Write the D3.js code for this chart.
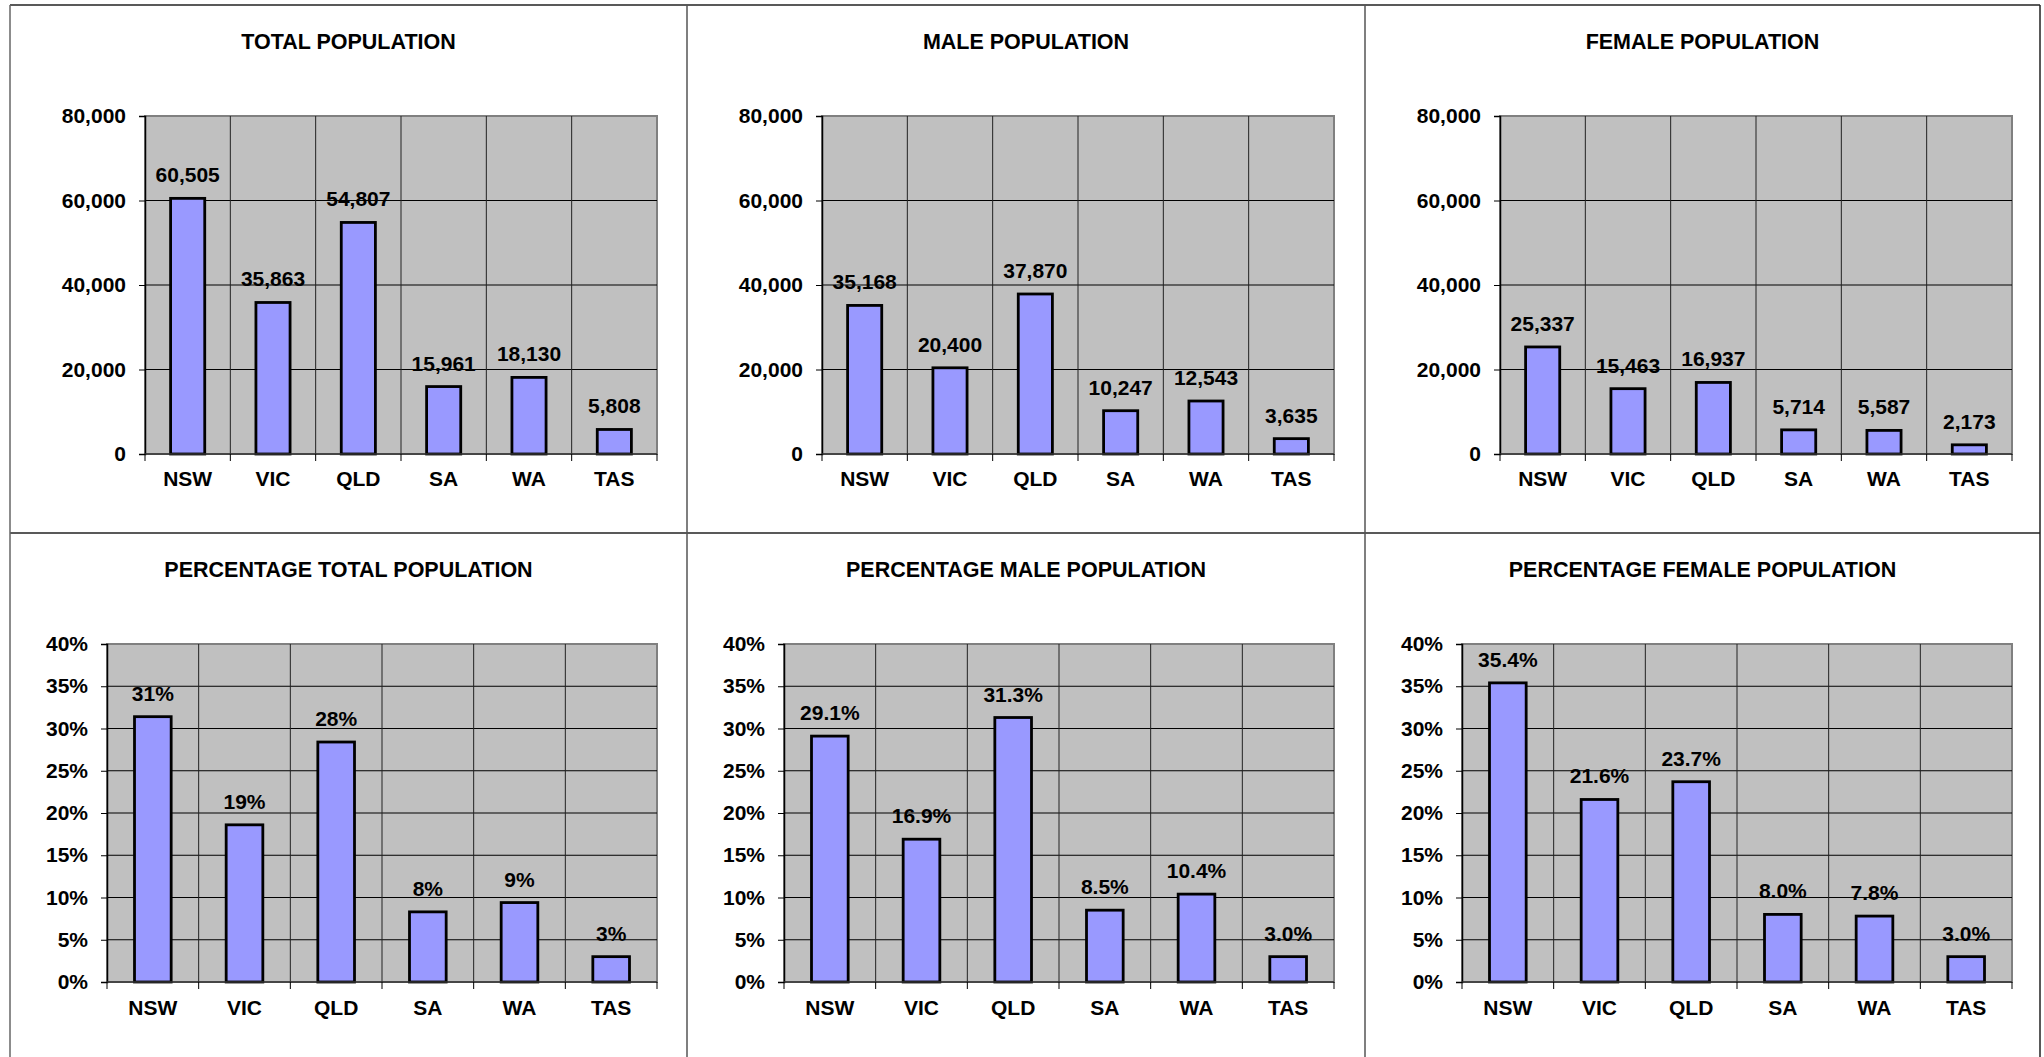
<!DOCTYPE html>
<html>
<head>
<meta charset="utf-8">
<script src="https://cdn.jsdelivr.net/npm/d3@7"></script>
<style>
  html, body { margin: 0; padding: 0; background: #ffffff; }
  svg { display: block; }
  text { font-family: "Liberation Sans", Arial, sans-serif; font-weight: bold; fill: #000; }
</style>
</head>
<body>
<svg id="chart" width="2044" height="1057"></svg>
<script>
// ---- data ----
const states = ["NSW", "VIC", "QLD", "SA", "WA", "TAS"];
const totalPopulation = [60505, 35863, 54807, 15961, 18130, 5808];
const malePopulation = [35168, 20400, 37870, 10247, 12543, 3635];
const femalePopulation = [25337, 15463, 16937, 5714, 5587, 2173];
const totalPercent = [31.4, 18.6, 28.4, 8.3, 9.4, 3.0];
const malePercent = [29.1, 16.9, 31.3, 8.5, 10.4, 3.0];
const femalePercent = [35.4, 21.6, 23.7, 8.0, 7.8, 3.0];
const countTicks = [0, 20000, 40000, 60000, 80000];
const percentTicks = [0, 5, 10, 15, 20, 25, 30, 35, 40];
const titles = ["TOTAL POPULATION", "MALE POPULATION", "FEMALE POPULATION",
                "PERCENTAGE TOTAL POPULATION", "PERCENTAGE MALE POPULATION", "PERCENTAGE FEMALE POPULATION"];

const svg = d3.select("#chart");
const colEdges = [10, 687, 1365, 2040];
const rowEdges = [5, 533, 1057];

const fmtCount = d3.format(",");
const fmtPctTick = d => d + "%";
const fmt0 = d => d3.format(".0f")(d) + "%";
const fmt1 = d => d3.format(".1f")(d) + "%";

const charts = [
  { row: 0, col: 0, title: titles[0], values: totalPopulation, ticks: countTicks, max: 80000, tickFmt: fmtCount, labFmt: fmtCount },
  { row: 0, col: 1, title: titles[1], values: malePopulation, ticks: countTicks, max: 80000, tickFmt: fmtCount, labFmt: fmtCount },
  { row: 0, col: 2, title: titles[2], values: femalePopulation, ticks: countTicks, max: 80000, tickFmt: fmtCount, labFmt: fmtCount },
  { row: 1, col: 0, title: titles[3], values: totalPercent, ticks: percentTicks, max: 40, tickFmt: fmtPctTick, labFmt: fmt0 },
  { row: 1, col: 1, title: titles[4], values: malePercent, ticks: percentTicks, max: 40, tickFmt: fmtPctTick, labFmt: fmt1 },
  { row: 1, col: 2, title: titles[5], values: femalePercent, ticks: percentTicks, max: 40, tickFmt: fmtPctTick, labFmt: fmt1 }
];

const FS = "21px";

charts.forEach(c => {
  const pL = colEdges[c.col], pR = colEdges[c.col + 1];
  const pT = rowEdges[c.row];
  const left = pL + (c.row === 0 ? 135 : 97);
  const right = pL + 647;
  const top = pT + 111;
  const bottom = top + 338;
  const g = svg.append("g");

  // title
  g.append("text")
    .attr("x", (pL + pR) / 2)
    .attr("y", pT + 44)
    .attr("text-anchor", "middle")
    .style("font-size", "21.5px")
    .text(c.title);

  const x = d3.scaleBand().domain(states).range([left, right]).paddingInner(0).paddingOuter(0);
  const y = d3.scaleLinear().domain([0, c.max]).range([bottom, top]);

  // plot area
  g.append("rect")
    .attr("x", left).attr("y", top)
    .attr("width", right - left).attr("height", bottom - top)
    .attr("fill", "#C0C0C0")
    .attr("stroke", "#808080").attr("stroke-width", 2);

  // horizontal gridlines
  g.selectAll(".hg").data(c.ticks.filter(t => t > 0 && t < c.max)).enter()
    .append("line")
    .attr("x1", left).attr("x2", right)
    .attr("y1", d => y(d)).attr("y2", d => y(d))
    .attr("stroke", "#000").attr("stroke-width", 1);

  // vertical gridlines at category boundaries
  g.selectAll(".vg").data(states.slice(1)).enter()
    .append("line")
    .attr("x1", d => x(d)).attr("x2", d => x(d))
    .attr("y1", top).attr("y2", bottom)
    .attr("stroke", "#222").attr("stroke-width", 1);

  // bars
  const bw = x.bandwidth() * 0.4;
  g.selectAll(".bar").data(c.values).enter()
    .append("rect")
    .attr("x", (d, i) => x(states[i]) + (x.bandwidth() - bw) / 2)
    .attr("y", d => y(d))
    .attr("width", bw)
    .attr("height", d => bottom - y(d))
    .attr("fill", "#9999FF")
    .attr("stroke", "#000")
    .attr("stroke-width", 2.8);

  // value labels
  g.selectAll(".vl").data(c.values).enter()
    .append("text")
    .attr("x", (d, i) => x(states[i]) + x.bandwidth() / 2)
    .attr("y", d => y(d) - 16)
    .attr("text-anchor", "middle")
    .style("font-size", FS)
    .text(d => c.labFmt(d));

  // y axis
  const yAxis = d3.axisLeft(y).tickValues(c.ticks).tickFormat(c.tickFmt).tickSize(6).tickPadding(13);
  const ya = g.append("g").attr("transform", `translate(${left},0)`).call(yAxis);
  ya.select(".domain").attr("stroke", "#000").attr("stroke-width", 1.5);
  ya.selectAll(".tick line").attr("stroke", "#000");
  ya.selectAll(".tick text").style("font-size", FS).style("font-family", "'Liberation Sans', Arial, sans-serif").style("font-weight", "bold").attr("fill", "#000");

  // x axis: ticks at band boundaries, labels centered
  const xa = g.append("g").attr("transform", `translate(0,${bottom})`);
  xa.append("line").attr("x1", left).attr("x2", right).attr("y1", 0).attr("y2", 0)
    .attr("stroke", "#333").attr("stroke-width", 1.5);
  const bounds = states.map(s => x(s)).concat([right]);
  xa.selectAll(".xt").data(bounds).enter()
    .append("line")
    .attr("x1", d => d).attr("x2", d => d)
    .attr("y1", 0).attr("y2", 7)
    .attr("stroke", "#000").attr("stroke-width", 1);
  xa.selectAll(".xl").data(states).enter()
    .append("text")
    .attr("x", d => x(d) + x.bandwidth() / 2)
    .attr("y", c.row === 0 ? 32 : 33)
    .attr("text-anchor", "middle")
    .style("font-size", FS)
    .text(d => d);
});

// panel borders
const borders = [
  { x1: 10, y1: 5, x2: 2040, y2: 5, c: "#222" },
  { x1: 10, y1: 533, x2: 2040, y2: 533, c: "#222" },
  { x1: 10, y1: 5, x2: 10, y2: 1057, c: "#666" },
  { x1: 687, y1: 5, x2: 687, y2: 1057, c: "#555" },
  { x1: 1365, y1: 5, x2: 1365, y2: 1057, c: "#555" },
  { x1: 2040, y1: 5, x2: 2040, y2: 1057, c: "#222" }
];
svg.selectAll(".border").data(borders).enter()
  .append("line")
  .attr("x1", d => d.x1).attr("y1", d => d.y1)
  .attr("x2", d => d.x2).attr("y2", d => d.y2)
  .attr("stroke", d => d.c).attr("stroke-width", 1.5);
</script>
</body>
</html>
